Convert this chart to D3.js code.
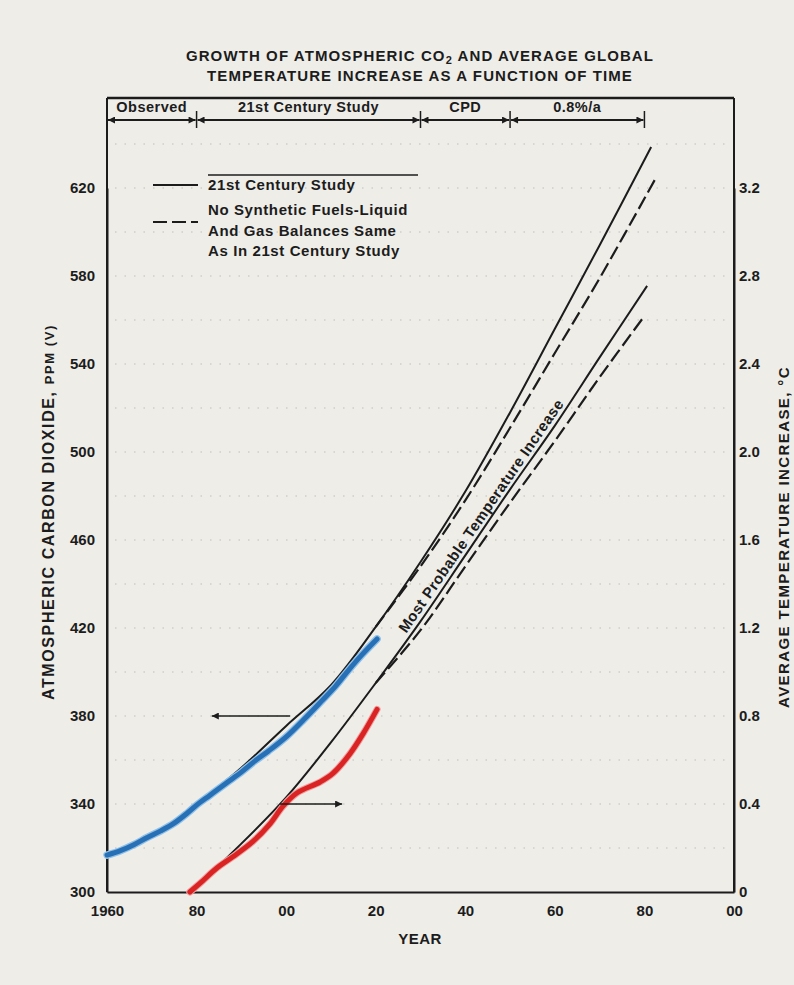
<!DOCTYPE html>
<html>
<head>
<meta charset="utf-8">
<script src="https://cdn.jsdelivr.net/npm/d3@7/dist/d3.min.js"></script>
<style>
body { margin: 0; background: #eeede8; }
svg { display: block; }
text { font-family: "Liberation Sans", Arial, sans-serif; fill: #1c1c1c; font-weight: bold; }
</style>
</head>
<body>
<div id="plot"></div>
<script>
// axis ticks
const x_ticks = [1960, 1980, 2000, 2020, 2040, 2060, 2080, 2100];
const x_tick_labels = ["1960", "80", "00", "20", "40", "60", "80", "00"];
const co2_ticks = [300, 340, 380, 420, 460, 500, 540, 580, 620];
const temp_ticks = [0, 0.4, 0.8, 1.2, 1.6, 2.0, 2.4, 2.8, 3.2];
const temp_tick_labels = ["0", "0.4", "0.8", "1.2", "1.6", "2.0", "2.4", "2.8", "3.2"];
const grid_levels = [320, 340, 360, 380, 400, 420, 440, 460, 480, 500, 520, 540, 560, 580, 600, 620, 640];

// periods along the top band
const period_names = ["Observed", "21st Century Study", "CPD", "0.8%/a"];
const period_bounds = [1960, 1980, 2030, 2050, 2080];

// observed CO2 (blue), [year, ppm]
const co2_observed = [[1960, 316.8], [1963, 318.8], [1966, 321.5], [1969, 324.8], [1972, 327.8], [1975, 331.3],
  [1978, 336], [1980, 339.5], [1983, 344], [1986, 348.5], [1988, 351.5], [1990, 354.5], [1993, 359.5],
  [1996, 364], [2000, 370.5], [2004, 378.5], [2008, 387], [2011, 393.5], [2014, 401], [2017, 408], [2020.3, 415]];
// observed temperature increase (red), [year, degC]
const temp_observed = [[1978.5, 0], [1980.8, 0.04], [1984.6, 0.11], [1988.1, 0.16], [1992.6, 0.23], [1996.4, 0.31],
  [1999.3, 0.39], [2002.4, 0.45], [2007.6, 0.50], [2010.5, 0.54], [2014.3, 0.63], [2017.2, 0.72], [2020.3, 0.83]];
// 21st century study, CO2
const co2_study = [[1980, 340], [1990, 356.5], [2000, 375.5], [2010, 394], [2020, 420.5], [2030, 450], [2040, 482],
  [2050, 518], [2060, 556], [2070, 594], [2081.5, 638.6]];
// no synthetic fuels, CO2
const co2_no_synfuel = [[2020, 420.5], [2030, 448], [2040, 478], [2050, 511], [2060, 545], [2070, 579], [2082.8, 625.5]];
// 21st century study, temperature
const temp_study = [[1978, 0], [1980, 0.03], [1990, 0.22], [2000, 0.43], [2010, 0.68], [2020, 0.95], [2030, 1.23],
  [2040, 1.53], [2050, 1.83], [2060, 2.12], [2070, 2.43], [2080.6, 2.755]];
// no synthetic fuels, temperature
const temp_no_synfuel = [[2020, 0.95], [2030, 1.19], [2040, 1.48], [2050, 1.77], [2060, 2.05], [2070, 2.34], [2079.7, 2.61]];

const total_width = 794
const total_height = 985
const margin = {left: 107, top: 98, right: 60, bottom: 93}
const width = total_width - margin.left - margin.right
const height = total_height - margin.top - margin.bottom

const root = d3.select("#plot").append("svg")
  .attr("width", total_width)
  .attr("height", total_height);

const defs = root.append("defs");
defs.append("marker").attr("id", "head")
  .attr("viewBox", "0 0 10 10").attr("refX", 10).attr("refY", 5)
  .attr("markerUnits", "userSpaceOnUse").attr("markerWidth", 11).attr("markerHeight", 7)
  .attr("orient", "auto-start-reverse")
  .append("path").attr("d", "M0,0L10,5L0,10z").attr("fill", "#1c1c1c");

// title
const t1 = root.append("text").attr("x", 420).attr("y", 61).attr("text-anchor", "middle")
  .attr("font-size", 15).attr("letter-spacing", 1.1);
t1.append("tspan").text("GROWTH OF ATMOSPHERIC CO");
t1.append("tspan").attr("dy", 3).attr("font-size", 11).text("2");
t1.append("tspan").attr("dy", -3).text(" AND AVERAGE GLOBAL");
root.append("text").attr("x", 420).attr("y", 81).attr("text-anchor", "middle")
  .attr("font-size", 15).attr("letter-spacing", 1.1)
  .text("TEMPERATURE INCREASE AS A FUNCTION OF TIME");

const svg = root.append("g").attr("transform", "translate(" + margin.left + "," + margin.top + ")");

const x = d3.scaleLinear().domain([1960, 2100]).range([0, width]);
const y_co2 = d3.scaleLinear().domain([300, 620]).range([height, height - 704]);
const y_temp = d3.scaleLinear().domain([0, 3.2]).range([height, height - 704]);

// faint leftover grid of the scanned original
svg.append("g").selectAll("line").data(grid_levels).enter().append("line")
  .attr("x1", 8).attr("x2", width - 8)
  .attr("y1", d => y_co2(d)).attr("y2", d => y_co2(d))
  .attr("stroke", "#8c8c8c").attr("stroke-width", 1.2)
  .attr("stroke-dasharray", "1.5,8").attr("opacity", 0.45);

// frame
svg.append("line").attr("x1", 0).attr("x2", width).attr("y1", 0).attr("y2", 0)
  .attr("stroke", "#1c1c1c").attr("stroke-width", 2.5);

const xAxis = d3.axisBottom(x).tickValues(x_ticks).tickSize(0).tickPadding(13)
  .tickFormat((d, i) => x_tick_labels[i]);
const yAxisL = d3.axisLeft(y_co2).tickValues(co2_ticks).tickSize(0).tickPadding(12).tickFormat(d3.format("d"));
const yAxisR = d3.axisRight(y_temp).tickValues(temp_ticks).tickSize(0).tickPadding(5)
  .tickFormat((d, i) => temp_tick_labels[i]);

function style_axis(g) {
  g.select(".domain").attr("stroke", "#1c1c1c").attr("stroke-width", 2);
  g.selectAll("text").attr("font-size", 15).attr("fill", "#1c1c1c")
    .attr("font-family", "\"Liberation Sans\", Arial, sans-serif").attr("font-weight", "bold");
}
svg.append("g").attr("transform", "translate(0," + height + ")").call(xAxis).call(style_axis);
svg.append("g").call(yAxisL).call(style_axis);
svg.append("g").attr("transform", "translate(" + width + ",0)").call(yAxisR).call(style_axis);
svg.append("line").attr("x1", 0).attr("x2", 0).attr("y1", 0).attr("y2", height)
  .attr("stroke", "#1c1c1c").attr("stroke-width", 2);
svg.append("line").attr("x1", width).attr("x2", width).attr("y1", 0).attr("y2", height)
  .attr("stroke", "#1c1c1c").attr("stroke-width", 2);

// axis titles
root.append("text").attr("x", 420).attr("y", 944).attr("text-anchor", "middle").attr("font-size", 15)
  .attr("letter-spacing", 0.5).text("YEAR");
const lt = root.append("text").attr("transform", "translate(54,512) rotate(-90)")
  .attr("text-anchor", "middle").attr("font-size", 16).attr("letter-spacing", 1.6);
lt.append("tspan").text("ATMOSPHERIC CARBON DIOXIDE, ");
lt.append("tspan").attr("font-size", 13).text("PPM (V)");
root.append("text").attr("transform", "translate(789,537) rotate(-90)")
  .attr("text-anchor", "middle").attr("font-size", 15).attr("letter-spacing", 1.4)
  .text("AVERAGE TEMPERATURE INCREASE, \u00b0C");

// top band with periods
const band_y = 22;
const periods = period_names.map((name, i) => ({name: name, start: period_bounds[i], end: period_bounds[i + 1]}));
const band = svg.append("g");
band.selectAll("line.seg").data(periods).enter().append("line")
  .attr("class", "seg")
  .attr("x1", d => x(d.start) + 1).attr("x2", d => x(d.end) - 1)
  .attr("y1", band_y).attr("y2", band_y)
  .attr("stroke", "#1c1c1c").attr("stroke-width", 1.8)
  .attr("marker-start", "url(#head)").attr("marker-end", "url(#head)");
band.selectAll("line.div").data(period_bounds.slice(1)).enter().append("line")
  .attr("class", "div")
  .attr("x1", d => x(d)).attr("x2", d => x(d))
  .attr("y1", band_y - 9).attr("y2", band_y + 8)
  .attr("stroke", "#1c1c1c").attr("stroke-width", 1.5);
band.selectAll("text").data(periods).enter().append("text")
  .attr("x", d => (x(d.start) + x(d.end)) / 2).attr("y", band_y - 8)
  .attr("text-anchor", "middle").attr("font-size", 14.5).attr("letter-spacing", 0.5)
  .text(d => d.name);

// curves
const co2_line = d3.line().x(d => x(d[0])).y(d => y_co2(d[1])).curve(d3.curveCatmullRom);
const temp_line = d3.line().x(d => x(d[0])).y(d => y_temp(d[1])).curve(d3.curveCatmullRom);

svg.append("path").datum(co2_study).attr("d", co2_line)
  .attr("fill", "none").attr("stroke", "#1c1c1c").attr("stroke-width", 2);
svg.append("path").datum(co2_no_synfuel).attr("d", co2_line)
  .attr("fill", "none").attr("stroke", "#1c1c1c").attr("stroke-width", 2.2).attr("stroke-dasharray", "14,5");
svg.append("path").datum(temp_study).attr("d", temp_line)
  .attr("fill", "none").attr("stroke", "#1c1c1c").attr("stroke-width", 2);
svg.append("path").datum(temp_no_synfuel).attr("d", temp_line)
  .attr("fill", "none").attr("stroke", "#1c1c1c").attr("stroke-width", 2.2).attr("stroke-dasharray", "14,5");

// observed, drawn over by hand in the original
svg.append("path").datum(co2_observed).attr("d", co2_line)
  .attr("fill", "none").attr("stroke", "#8fc0e8").attr("stroke-width", 7.5).attr("stroke-linecap", "round");
svg.append("path").datum(co2_observed).attr("d", co2_line)
  .attr("fill", "none").attr("stroke", "#2870b6").attr("stroke-width", 5).attr("stroke-linecap", "round");
svg.append("path").datum(temp_observed).attr("d", temp_line)
  .attr("fill", "none").attr("stroke", "#f0a0a0").attr("stroke-width", 7).attr("stroke-linecap", "round");
svg.append("path").datum(temp_observed).attr("d", temp_line)
  .attr("fill", "none").attr("stroke", "#da2323").attr("stroke-width", 5).attr("stroke-linecap", "round");

// arrows pointing to the axis each curve belongs to
svg.append("line").attr("x1", x(2000.9)).attr("x2", x(1983.4))
  .attr("y1", y_co2(380)).attr("y2", y_co2(380))
  .attr("stroke", "#1c1c1c").attr("stroke-width", 1.6).attr("marker-end", "url(#head)");
svg.append("line").attr("x1", x(1998.6)).attr("x2", x(2012.5))
  .attr("y1", y_temp(0.4)).attr("y2", y_temp(0.4))
  .attr("stroke", "#1c1c1c").attr("stroke-width", 1.6).attr("marker-end", "url(#head)");

// label along the temperature curves
const lab_x = x(2043.5), lab_y = y_temp(1.71);
svg.append("text").attr("transform", "translate(" + lab_x + "," + lab_y + ") rotate(-55.5)")
  .attr("text-anchor", "middle").attr("dy", "0.35em").attr("font-size", 15).attr("letter-spacing", 0.5)
  .attr("font-weight", "normal")
  .text("Most Probable Temperature Increase");

// legend
const leg = svg.append("g").attr("transform", "translate(" + (153 - margin.left) + "," + (185 - margin.top) + ")");
leg.append("line").attr("x1", 55).attr("x2", 265).attr("y1", -10).attr("y2", -10)
  .attr("stroke", "#1c1c1c").attr("stroke-width", 1.5);
leg.append("line").attr("x1", 0).attr("x2", 45).attr("y1", 0).attr("y2", 0)
  .attr("stroke", "#1c1c1c").attr("stroke-width", 2);
leg.append("text").attr("x", 55).attr("y", 0).attr("dy", "0.35em").attr("font-size", 15)
  .attr("letter-spacing", 0.6).text("21st Century Study");
leg.append("line").attr("x1", 0).attr("x2", 45).attr("y1", 37).attr("y2", 37)
  .attr("stroke", "#1c1c1c").attr("stroke-width", 2.2).attr("stroke-dasharray", "14,5");
const leg_lines = ["No Synthetic Fuels-Liquid", "And Gas Balances Same", "As In 21st Century Study"];
leg.selectAll("text.multi").data(leg_lines).enter().append("text").attr("class", "multi")
  .attr("x", 55).attr("y", (d, i) => 25 + i * 20.5).attr("dy", "0.35em").attr("font-size", 15)
  .attr("letter-spacing", 0.6)
  .text(d => d);
</script>
</body>
</html>
